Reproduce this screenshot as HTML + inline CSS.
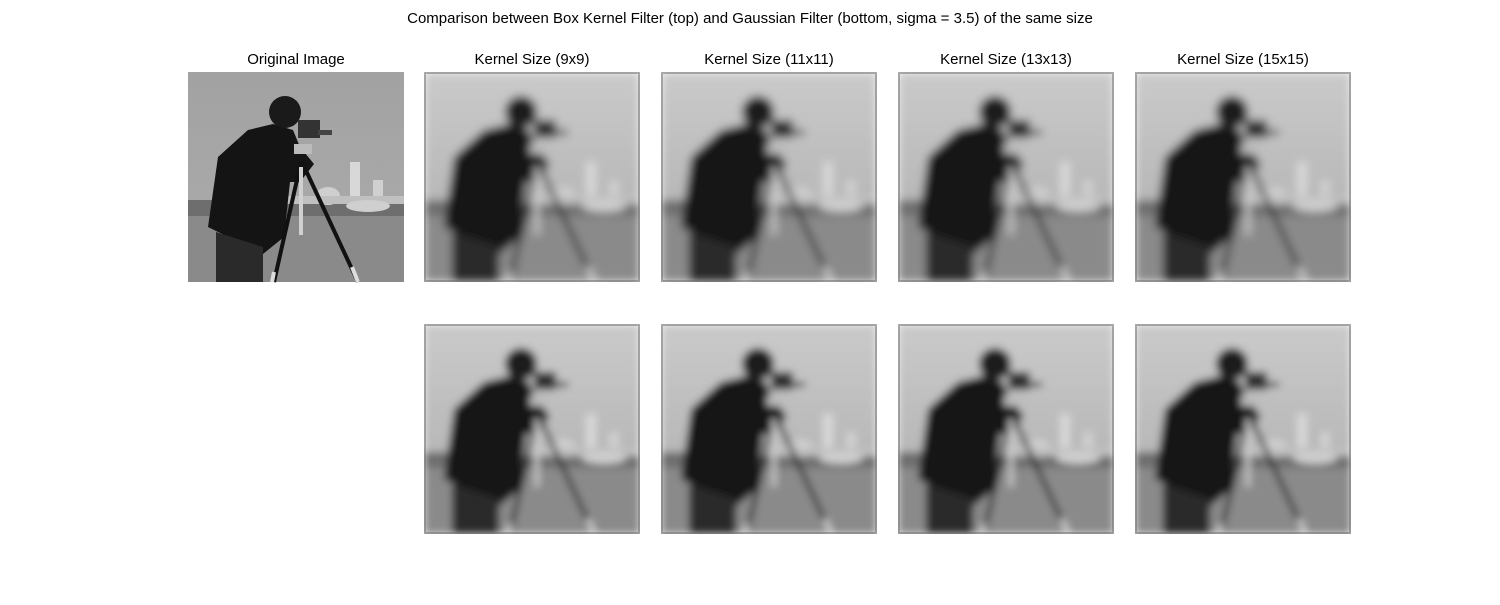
<!DOCTYPE html>
<html><head><meta charset="utf-8"><style>
body{margin:0;background:#fff;width:1500px;height:600px;overflow:hidden;font-family:"Liberation Sans","DejaVu Sans",sans-serif}
</style></head><body>
<svg width="1500" height="600" viewBox="0 0 1500 600">
<defs>
<linearGradient id="sky" x1="0" y1="0" x2="0" y2="1"><stop offset="0" stop-color="#a2a2a2"/><stop offset="1" stop-color="#acacac"/></linearGradient>
<linearGradient id="sky2" x1="0" y1="0" x2="0" y2="1"><stop offset="0" stop-color="#cacaca"/><stop offset="1" stop-color="#acacac"/></linearGradient>
<filter id="b1" x="0" y="0" width="1" height="1"><feGaussianBlur stdDeviation="4.5" edgeMode="duplicate"/></filter>
<filter id="b2" x="0" y="0" width="1" height="1"><feGaussianBlur stdDeviation="4" edgeMode="duplicate"/></filter>
<g id="fig">
<polygon points="30,85 60,58 85,52 105,58 112,75 126,92 112,110 102,110 96,165 75,182 20,155" fill="#141414"/>
<circle cx="97" cy="40" r="16" fill="#1a1a1a"/>
<polygon points="28,160 75,175 75,210 28,210" fill="#2a2a2a"/>
<rect x="110" y="48" width="22" height="18" fill="#333"/>
<rect x="130" y="58" width="14" height="5" fill="#444"/>
<rect x="106" y="72" width="18" height="10" fill="#bbb"/>
<line x1="113" y1="90" x2="86" y2="210" stroke="#111" stroke-width="4"/>
<line x1="114" y1="90" x2="170" y2="210" stroke="#111" stroke-width="4"/>
<line x1="113" y1="95" x2="113" y2="163" stroke="#d0d0d0" stroke-width="4"/>
<line x1="86" y1="200" x2="84" y2="210" stroke="#ddd" stroke-width="4"/>
<line x1="164" y1="195" x2="170" y2="210" stroke="#ddd" stroke-width="4"/>
</g>
<g id="scene">
<rect x="0" y="128" width="216" height="82" fill="#8a8a8a"/>
<rect x="0" y="128" width="216" height="16" fill="#6e6e6e"/>
<ellipse cx="140" cy="124" rx="12" ry="9" fill="#cfcfcf"/>
<rect x="162" y="90" width="10" height="40" fill="#d8d8d8"/>
<rect x="185" y="108" width="10" height="20" fill="#d0d0d0"/>
<rect x="95" y="124" width="121" height="8" fill="#c0c0c0"/>
<ellipse cx="180" cy="134" rx="22" ry="6" fill="#cfcfcf"/>
<use href="#fig"/>
</g>
<g id="blurred">
<rect x="0" y="0" width="216" height="210" fill="url(#sky2)"/>
<use href="#scene"/>
</g>
</defs>
<text x="750" y="23" font-size="15" text-anchor="middle" fill="#000">Comparison between Box Kernel Filter (top) and Gaussian Filter (bottom, sigma = 3.5) of the same size</text>

<g transform="translate(188,72)">
<rect width="216" height="210" fill="url(#sky)"/>
<use href="#scene"/>
</g>
<text x="296" y="64" font-size="15" text-anchor="middle">Original Image</text>

<g transform="translate(424,72)"><g filter="url(#b1)"><use href="#blurred"/></g><rect x="1" y="1" width="214" height="208" fill="none" stroke="#666" stroke-width="2" opacity="0.5"/></g>
<g transform="translate(661,72)"><g filter="url(#b1)"><use href="#blurred"/></g><rect x="1" y="1" width="214" height="208" fill="none" stroke="#666" stroke-width="2" opacity="0.5"/></g>
<g transform="translate(898,72)"><g filter="url(#b1)"><use href="#blurred"/></g><rect x="1" y="1" width="214" height="208" fill="none" stroke="#666" stroke-width="2" opacity="0.5"/></g>
<g transform="translate(1135,72)"><g filter="url(#b1)"><use href="#blurred"/></g><rect x="1" y="1" width="214" height="208" fill="none" stroke="#666" stroke-width="2" opacity="0.5"/></g>

<g transform="translate(424,324)"><g filter="url(#b2)"><use href="#blurred"/></g><rect x="1" y="1" width="214" height="208" fill="none" stroke="#666" stroke-width="2" opacity="0.5"/></g>
<g transform="translate(661,324)"><g filter="url(#b2)"><use href="#blurred"/></g><rect x="1" y="1" width="214" height="208" fill="none" stroke="#666" stroke-width="2" opacity="0.5"/></g>
<g transform="translate(898,324)"><g filter="url(#b2)"><use href="#blurred"/></g><rect x="1" y="1" width="214" height="208" fill="none" stroke="#666" stroke-width="2" opacity="0.5"/></g>
<g transform="translate(1135,324)"><g filter="url(#b2)"><use href="#blurred"/></g><rect x="1" y="1" width="214" height="208" fill="none" stroke="#666" stroke-width="2" opacity="0.5"/></g>

<text x="532" y="64" font-size="15" text-anchor="middle">Kernel Size (9x9)</text>
<text x="769" y="64" font-size="15" text-anchor="middle">Kernel Size (11x11)</text>
<text x="1006" y="64" font-size="15" text-anchor="middle">Kernel Size (13x13)</text>
<text x="1243" y="64" font-size="15" text-anchor="middle">Kernel Size (15x15)</text>
</svg>
</body></html>
